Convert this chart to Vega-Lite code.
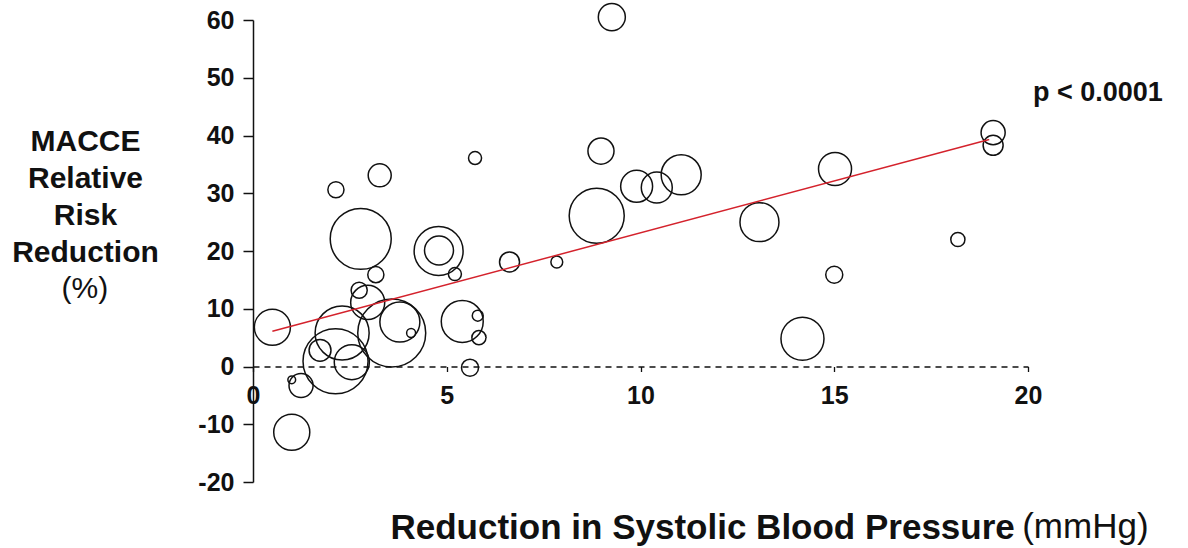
{
  "$schema": "https://vega.github.io/schema/vega-lite/v6.json",
  "autosize": "none",
  "width": 775,
  "height": 462,
  "padding": {"left": 253, "top": 20, "right": 160, "bottom": 66},
  "background": "white",
  "config": {"view": {"stroke": null}, "font": "Liberation Sans"},
  "datasets": {
    "trials": [
      {"sbp": 0.5, "rrr": 6.8, "weight": 130},
      {"sbp": 2.3, "rrr": 5.8, "weight": 292},
      {"sbp": 2.13, "rrr": 0.9, "weight": 423},
      {"sbp": 1.73, "rrr": 2.8, "weight": 48},
      {"sbp": 2.55, "rrr": 0.75, "weight": 123},
      {"sbp": 3.58, "rrr": 5.8, "weight": 462},
      {"sbp": 3.79, "rrr": 7.7, "weight": 160},
      {"sbp": 4.08, "rrr": 5.8, "weight": 8},
      {"sbp": 2.96, "rrr": 11.1, "weight": 116},
      {"sbp": 2.74, "rrr": 13.2, "weight": 26},
      {"sbp": 1.0, "rrr": -2.3, "weight": 6},
      {"sbp": 1.24, "rrr": -3.3, "weight": 58},
      {"sbp": 1.0, "rrr": -11.4, "weight": 130},
      {"sbp": 5.4, "rrr": 7.8, "weight": 176},
      {"sbp": 5.8, "rrr": 8.8, "weight": 12},
      {"sbp": 5.83, "rrr": 5.0, "weight": 20},
      {"sbp": 5.6, "rrr": -0.2, "weight": 29},
      {"sbp": 2.14, "rrr": 30.6, "weight": 26},
      {"sbp": 3.27, "rrr": 33.1, "weight": 53},
      {"sbp": 2.78, "rrr": 22.1, "weight": 372},
      {"sbp": 3.17, "rrr": 15.9, "weight": 26},
      {"sbp": 4.79, "rrr": 20.0, "weight": 240},
      {"sbp": 4.8, "rrr": 20.1, "weight": 84},
      {"sbp": 5.21, "rrr": 16.0, "weight": 17},
      {"sbp": 6.62, "rrr": 18.1, "weight": 40},
      {"sbp": 7.84, "rrr": 18.1, "weight": 14},
      {"sbp": 5.73, "rrr": 36.1, "weight": 17},
      {"sbp": 9.26, "rrr": 60.5, "weight": 73},
      {"sbp": 8.98, "rrr": 37.3, "weight": 68},
      {"sbp": 8.87, "rrr": 26.1, "weight": 303},
      {"sbp": 9.9, "rrr": 31.2, "weight": 102},
      {"sbp": 10.42, "rrr": 31.0, "weight": 96},
      {"sbp": 11.05, "rrr": 33.2, "weight": 160},
      {"sbp": 13.07, "rrr": 25.0, "weight": 152},
      {"sbp": 15.02, "rrr": 34.2, "weight": 109},
      {"sbp": 15.0, "rrr": 15.9, "weight": 29},
      {"sbp": 14.18, "rrr": 4.8, "weight": 185},
      {"sbp": 18.19, "rrr": 22.0, "weight": 20},
      {"sbp": 19.1, "rrr": 40.5, "weight": 58},
      {"sbp": 19.1, "rrr": 38.3, "weight": 40}
    ],
    "fit": [
      {"sbp": 0.5, "rrr": 6.1},
      {"sbp": 19.0, "rrr": 39.3}
    ]
  },
  "layer": [
    {
      "data": {"name": "trials"},
      "mark": {"type": "point", "shape": "circle", "filled": false, "stroke": "#111111", "strokeWidth": 1.5, "opacity": 1},
      "encoding": {
        "x": {
          "field": "sbp", "type": "quantitative",
          "scale": {"domain": [0, 20], "nice": false, "zero": false},
          "axis": {
            "values": [0, 5, 10, 15, 20],
            "labelExpr": "'' + datum.value",
            "offset": -115.5,
            "domainDash": [6, 5],
            "domainColor": "#111111",
            "domainWidth": 1.3,
            "tickColor": "#111111",
            "tickSize": 5,
            "tickWidth": 1.3,
            "labelFlush": false,
            "labelFont": "Liberation Sans",
            "labelFontWeight": "bold",
            "labelFontSize": 25,
            "labelColor": "#111111",
            "labelPadding": 12,
            "grid": false,
            "title": "Reduction in Systolic Blood Pressure",
            "titleFont": "Liberation Sans",
            "titleFontWeight": "bold",
            "titleFontSize": 35,
            "titleColor": "#111111",
            "titleAlign": "left",
            "titleBaseline": "alphabetic",
            "titleX": 137,
            "titleY": 171.5
          }
        },
        "y": {
          "field": "rrr", "type": "quantitative",
          "scale": {"domain": [-20, 60], "nice": false, "zero": false},
          "axis": {
            "values": [-20, -10, 0, 10, 20, 30, 40, 50, 60],
            "labelExpr": "'' + datum.value",
            "domainColor": "#111111",
            "domainWidth": 1.5,
            "tickColor": "#111111",
            "tickSize": 10,
            "tickWidth": 1.5,
            "labelFont": "Liberation Sans",
            "labelFontWeight": "bold",
            "labelFontSize": 25,
            "labelColor": "#111111",
            "labelPadding": 9,
            "grid": false,
            "title": ["MACCE", "Relative", "Risk", "Reduction"],
            "titleFont": "Liberation Sans",
            "titleFontWeight": "bold",
            "titleFontSize": 30,
            "titleColor": "#111111",
            "titleAngle": 0,
            "titleAlign": "center",
            "titleBaseline": "alphabetic",
            "titleLineHeight": 37,
            "titleX": -168,
            "titleY": 130
          }
        },
        "size": {
          "field": "weight", "type": "quantitative",
          "scale": {"domain": [0, 1000], "range": [0, 10000], "zero": true},
          "legend": null
        }
      }
    },
    {
      "data": {"name": "fit"},
      "mark": {"type": "line", "color": "#d4222c", "strokeWidth": 1.5},
      "encoding": {
        "x": {"field": "sbp", "type": "quantitative"},
        "y": {"field": "rrr", "type": "quantitative"}
      }
    },
    {
      "data": {"values": [{}]},
      "mark": {"type": "text", "align": "left", "baseline": "alphabetic", "font": "Liberation Sans", "fontWeight": "bold", "fontSize": 27, "color": "#111111"},
      "encoding": {
        "x": {"datum": 20.13, "type": "quantitative"},
        "y": {"datum": 46.0, "type": "quantitative"},
        "text": {"value": "p < 0.0001"}
      }
    },
    {
      "data": {"values": [{}]},
      "mark": {"type": "text", "align": "center", "baseline": "alphabetic", "font": "Liberation Sans", "fontWeight": "normal", "fontSize": 30, "color": "#111111"},
      "encoding": {
        "x": {"datum": -4.34, "type": "quantitative"},
        "y": {"datum": 11.9, "type": "quantitative"},
        "text": {"value": "(%)"}
      }
    },
    {
      "data": {"values": [{}]},
      "mark": {"type": "text", "align": "left", "baseline": "alphabetic", "font": "Liberation Sans", "fontWeight": "normal", "fontSize": 35, "color": "#111111"},
      "encoding": {
        "x": {"datum": 19.85, "type": "quantitative"},
        "y": {"datum": -29.7, "type": "quantitative"},
        "text": {"value": "(mmHg)"}
      }
    }
  ]
}
